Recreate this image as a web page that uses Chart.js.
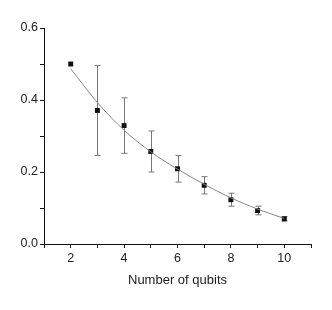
<!DOCTYPE html>
<html>
<head>
<meta charset="utf-8">
<script src="https://cdn.jsdelivr.net/npm/chart.js@4.4.1/dist/chart.umd.min.js"></script>
<style>
  html, body { margin: 0; padding: 0; background: #fff; }
  #wrap { width: 332px; height: 310px; position: relative; }
</style>
</head>
<body>
<div id="wrap"><canvas id="c"></canvas></div>
<script>
// measured points
const qubits = [2, 3, 4, 5, 6, 7, 8, 9, 10];
const values = [0.500, 0.371, 0.329, 0.257, 0.209, 0.163, 0.123, 0.093, 0.070];
const errors = [0, 0.125, 0.077, 0.057, 0.037, 0.024, 0.018, 0.012, 0.006];

// fitted curve
const fitX = [2, 3, 4, 5, 6, 7, 8, 9, 10];
const fitY = [0.487, 0.393, 0.316, 0.256, 0.208, 0.166, 0.128, 0.097, 0.071];

const ink = '#111';
const font = { family: '"Liberation Sans", Arial, sans-serif', size: 12.5 };

/* ─── Error bars drawn through the chart's own scales ─────────────────── */

const errorBars = {
    id: 'errorBars',
    beforeDatasetsDraw(chart) {
        const { ctx, scales: { x, y } } = chart;
        ctx.save();
        ctx.strokeStyle = '#777';
        ctx.lineWidth = 1;
        qubits.forEach((q, i) => {
            if (!errors[i]) return;
            const px = Math.round(x.getPixelForValue(q)) + 0.5;
            const top = y.getPixelForValue(values[i] + errors[i]);
            const bot = y.getPixelForValue(values[i] - errors[i]);
            ctx.beginPath();
            ctx.moveTo(px, top); ctx.lineTo(px, bot);
            ctx.moveTo(px - 3, top); ctx.lineTo(px + 3, top);
            ctx.moveTo(px - 3, bot); ctx.lineTo(px + 3, bot);
            ctx.stroke();
        });
        ctx.restore();
    }
};

new Chart(document.getElementById('c'), {
    type: 'scatter',
    data: {
        datasets: [
            {
                label: 'fit',
                data: fitX.map((v, i) => ({ x: v, y: fitY[i] })),
                showLine: true,
                borderColor: '#888',
                borderWidth: 1,
                pointRadius: 0,
                cubicInterpolationMode: 'monotone'
            },
            {
                label: 'data',
                data: qubits.map((v, i) => ({ x: v, y: values[i] })),
                pointStyle: 'rect',
                pointRadius: 3.5,
                backgroundColor: ink,
                borderColor: ink,
                borderWidth: 0
            }
        ]
    },
    options: {
        responsive: true,
        maintainAspectRatio: false,
        animation: false,
        layout: { padding: { top: 28, right: 21, left: 0, bottom: 0 } },
        plugins: { legend: { display: false }, tooltip: { enabled: false } },
        scales: {
            x: {
                type: 'linear',
                min: 1, max: 11,
                afterFit: s => { s.height = 66; },
                border: { display: true, color: ink, width: 1 },
                grid: { drawOnChartArea: false, drawTicks: true, tickLength: 4, color: ink, tickColor: ink },
                ticks: {
                    stepSize: 1, color: '#222', font, padding: 3, maxRotation: 0, autoSkip: false,
                    callback: v => (v % 2 === 0 && v >= 2 && v <= 10) ? String(v) : ''
                },
                title: { display: true, text: 'Number of qubits', color: '#222', font: { family: font.family, size: 13 }, padding: { top: 0, bottom: 22 } }
            },
            y: {
                min: 0, max: 0.6,
                afterFit: s => { s.width = 44; },
                border: { display: true, color: ink, width: 1 },
                grid: { drawOnChartArea: false, drawTicks: true, tickLength: 4, color: ink, tickColor: ink },
                ticks: {
                    stepSize: 0.1, color: '#222', font, padding: 2, autoSkip: false,
                    callback: v => Math.round(v * 10) % 2 === 0 ? v.toFixed(1) : ''
                }
            }
        }
    },
    plugins: [errorBars]
});
</script>
</body>
</html>
